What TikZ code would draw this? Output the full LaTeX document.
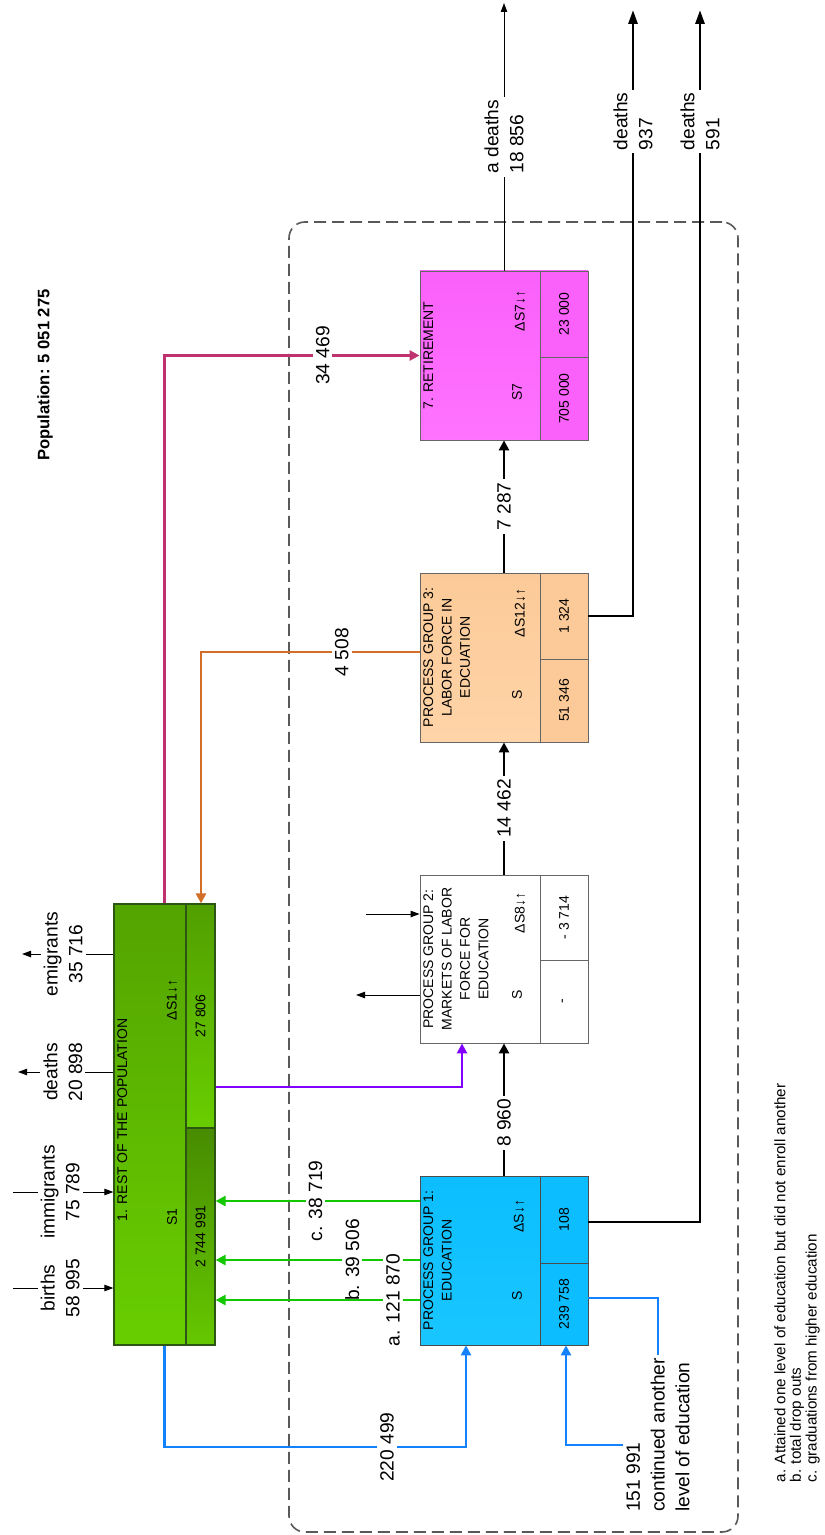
\documentclass[tikz,border=0pt]{standalone}
\usepackage{fontspec}
\setmainfont{Liberation Sans}
\usetikzlibrary{arrows.meta}
\definecolor{popdark}{RGB}{84,164,0}
\definecolor{poplight}{RGB}{104,206,0}
\definecolor{popedge}{RGB}{45,85,20}
\definecolor{edublue}{RGB}{12,190,255}
\definecolor{edulight}{RGB}{25,198,255}
\definecolor{peach}{RGB}{252,202,152}
\definecolor{peachlight}{RGB}{255,212,168}
\definecolor{pink}{RGB}{250,96,250}
\definecolor{pinklight}{RGB}{255,115,255}
\definecolor{flowgreen}{RGB}{20,200,0}
\definecolor{flowblue}{RGB}{20,130,255}
\definecolor{flowpurple}{RGB}{130,0,255}
\definecolor{floworange}{RGB}{210,110,40}
\definecolor{flowcrimson}{RGB}{190,50,110}
\tikzstyle{frame} = [draw=black!65, line width=0.8pt, dash pattern=on 6pt off 3pt,
    rounded corners=8pt, rectangle, inner sep=0pt]
\tikzstyle{boxtext} = [font=\fontsize{7}{9.2}\selectfont, rotate=90, inner sep=0pt]
\tikzstyle{boxtitle} = [boxtext, align=center, anchor=north]
\tikzstyle{cell} = [rectangle, rotate=90, inner sep=0pt, font=\fontsize{7}{9}\selectfont]
\tikzstyle{pgbox} = [rectangle, inner sep=0pt, minimum width=84pt, minimum height=84.5pt]
\tikzstyle{pgcell} = [cell, minimum height=24pt]
\tikzstyle{popcell} = [rectangle, draw=popedge, line width=0.6pt, inner sep=0pt, minimum width=14.5pt]
\tikzstyle{flowlabel} = [font=\fontsize{9.6}{12.4}\selectfont, rotate=90, fill=white,
    text=black, inner sep=1.5pt, align=center]
\tikzstyle{thickflow} = [line width=1.4pt, -{Triangle[length=5pt,width=5pt]}]
\tikzstyle{thinflow} = [line width=0.5pt, -{Triangle[length=4.5pt,width=3.2pt]}]
\tikzstyle{outflow} = [line width=1.4pt, -{Triangle[length=7pt,width=4.5pt]}]

\begin{document}
\begin{tikzpicture}[x=0.5pt, y=-0.5pt]
\useasboundingbox (0,0) rectangle (824,1535);

\node[frame, minimum width=224.5pt, minimum height=655pt] (sys) at (513.5,877) {};
\node[rotate=90, font=\fontsize{8.3}{10}\bfseries] (popn) at (45,375) {Population: 5 051 275};

% 1. rest of the population
\node[rectangle, draw=popedge, line width=0.6pt, top color=popdark, bottom color=poplight,
    minimum width=50.5pt, minimum height=220.5pt] (rest) at (164.5,1124.5) {};
\node[popcell, top color=popdark!97!black, bottom color=poplight, minimum height=112pt] (restd) at (200.5,1016) {};
\node[popcell, top color=popdark!85!black, bottom color=poplight!97!black, minimum height=108.5pt] (rests) at (200.5,1236.5) {};
\node[boxtext] (restdv) at (restd) {27 806};
\node[boxtext] (restsv) at (rests) {2 744 991};
\node[boxtitle] (restt) at (117,1120) {1. REST OF THE POPULATION};
\node[boxtext] (restS) at (172,1217) {S1};
\node[boxtext] (restdS) at (172,1000) {ΔS1↓↑};

% process group 1
\node[pgbox, draw=black!70, top color=edublue, bottom color=edulight] (edu) at (504,1260.5) {};
\node[pgcell, draw=black!70, fill=edublue, minimum width=43.5pt] (edud) at (564,1219.5) {108};
\node[pgcell, draw=black!70, fill=edublue, minimum width=41pt] (edus) at (564,1304) {239 758};
\node[boxtitle] (edut) at (423,1260.5) {PROCESS GROUP 1:\\EDUCATION};
\node[boxtext] (eduS) at (517,1296) {S};
\node[boxtext] (edudS) at (519,1216) {ΔS↓↑};

% process group 2
\node[pgbox, draw=black!60, fill=white, minimum height=84pt] (mkt) at (504,959) {};
\node[pgcell, draw=black!60, minimum width=42.5pt] (mktd) at (564,917.5) {- 3 714};
\node[pgcell, draw=black!60, minimum width=41.5pt] (mkts) at (564,1001.5) {-};
\node[boxtitle] (mktt) at (423,959) {PROCESS GROUP 2:\\MARKETS OF LABOR\\FORCE FOR\\EDUCATION};
\node[boxtext] (mktS) at (517,995) {S};
\node[boxtext] (mktdS) at (520,913) {ΔS8↓↑};

% process group 3
\node[pgbox, draw=black!60, top color=peach, bottom color=peachlight] (lab) at (504,657.5) {};
\node[pgcell, draw=black!60, fill=peach, minimum width=43pt] (labd) at (564,616) {1 324};
\node[pgcell, draw=black!60, fill=peach, minimum width=41.5pt] (labs) at (564,700.5) {51 346};
\node[boxtitle] (labt) at (423,657.5) {PROCESS GROUP 3:\\LABOR FORCE IN\\EDCUATION};
\node[boxtext] (labS) at (517,695) {S};
\node[boxtext] (labdS) at (520,613) {ΔS12↓↑};

% 7. retirement
\node[pgbox, draw=black!60, top color=pink, bottom color=pinklight] (ret) at (504,355.5) {};
\node[pgcell, draw=black!60, fill=pink, minimum width=43pt] (retd) at (564,314) {23 000};
\node[pgcell, draw=black!60, fill=pink, minimum width=41.5pt] (rets) at (564,398.5) {705 000};
\node[boxtitle] (rett) at (423,355.5) {7. RETIREMENT};
\node[boxtext] (retS) at (517,392) {S7};
\node[boxtext] (retdS) at (520,311) {ΔS7↓↑};

% flows between the groups
\draw[thickflow] (edu.north) -- node[pos=0.4, flowlabel] {8 960} (mkt.south);
\draw[thickflow] (mkt.north) -- node[flowlabel] {14 462} (lab.south);
\draw[thickflow] (lab.north) -- node[flowlabel] {7 287} (ret.south);

% deaths out of the system
\coordinate (dead7) at (504,3);
\coordinate (dead3) at (633,10);
\coordinate (dead1) at (700,10);
\draw[thinflow] (ret.north) -- node[flowlabel, align=left] {a deaths\\18 856} (dead7);
\draw[outflow] (lab.east |- labd) -| node[pos=0.908, flowlabel, align=left] {deaths\\937} (dead3);
\draw[outflow] (edu.east |- 0,1222) -| node[pos=0.954, flowlabel, align=left] {deaths\\591} (dead1);

% from education back to the rest
\draw[thickflow, flowgreen] (edu.west |- 0,1201) -- node[pos=0.51, flowlabel] {c. 38 719} (rest.east |- 0,1201);
\draw[thickflow, flowgreen] (edu.west |- 0,1260) -- node[pos=0.33, flowlabel] {b. 39 506} (rest.east |- 0,1260);
\draw[thickflow, flowgreen] (edu.west |- 0,1300) -- node[pos=0.13, flowlabel] {a. 121 870} (rest.east |- 0,1300);

\draw[thickflow, flowpurple] (rest.east |- 0,1087) -| ([xshift=-21pt]mkt.south);
\draw[thickflow, floworange] (lab.west |- 0,652) -| node[pos=0.178, flowlabel] {4 508} ([xshift=18.25pt]rest.north);
\draw[thickflow, flowcrimson] (rest.north) |- node[pos=0.81, flowlabel] {34 469} (ret.west);
\draw[thickflow, flowblue] (rest.south) -- (rest.south |- 0,1447) -| node[pos=0.369, flowlabel] {220 499} ([xshift=-19pt]edu.south);

% continued another level
\node[flowlabel, align=left, fill=none] (cont) at (658,1435) {151 991\\continued another\\level of education};
\draw[thickflow, -, flowblue] (edu.east |- 0,1298) -| (cont.east);
\draw[thickflow, flowblue] ([yshift=-5pt]cont.north) -| ([xshift=31pt]edu.south);

% births, migration, deaths of the rest
\coordinate (birthsin) at (13,1288);
\coordinate (immin) at (13,1192);
\coordinate (deadout) at (18,1072);
\coordinate (emiout) at (22,954);
\draw[thinflow] (birthsin) -- node[pos=0.47, flowlabel] {births\\58 995} (rest.west |- birthsin);
\draw[thinflow] (immin) -- node[pos=0.47, flowlabel] {immigrants\\75 789} (rest.west |- immin);
\draw[thinflow] (rest.west |- deadout) -- node[pos=0.53, flowlabel] {deaths\\20 898} (deadout);
\draw[thinflow] (rest.west |- emiout) -- node[pos=0.55, flowlabel] {emigrants\\35 716} (emiout);

% labor markets in and out
\coordinate (mktin) at (366,914);
\coordinate (mktout) at (356,995);
\draw[thinflow] (mktin) -- (mkt.west |- mktin);
\draw[thinflow] (mkt.west |- mktout) -- (mktout);

\node[rotate=90, align=left, inner sep=0pt, font=\fontsize{7.6}{7.8}\selectfont] (notes) at (797,1283)
    {a. Attained one level of education but did not enroll another\\b. total drop outs\\c. graduations from higher education};
\end{tikzpicture}
\end{document}
